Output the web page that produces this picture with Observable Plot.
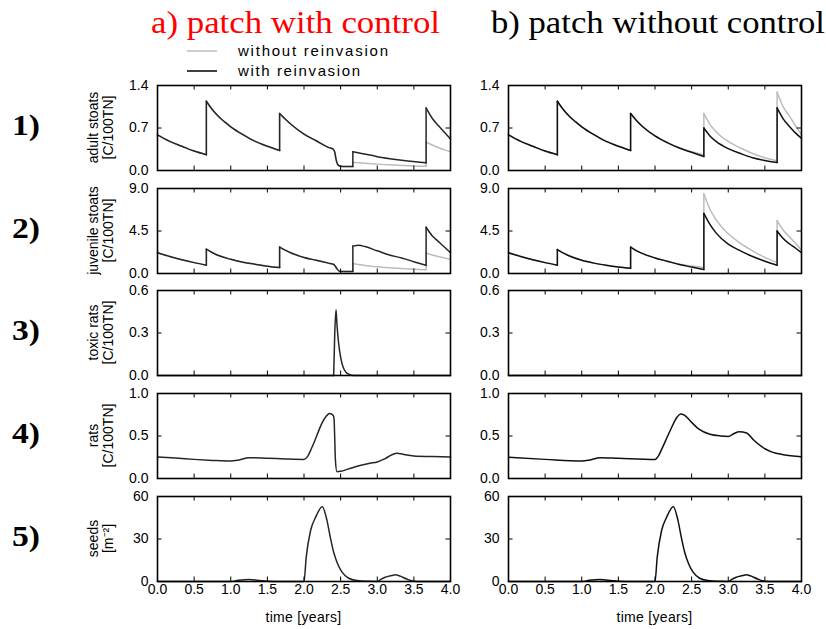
<!DOCTYPE html>
<html><head><meta charset="utf-8">
<script src="https://cdn.jsdelivr.net/npm/d3@7"></script>
<script src="https://cdn.jsdelivr.net/npm/@observablehq/plot@0.6"></script>
<style>
body{margin:0;background:#fff;}
#c{position:relative;width:826px;height:629px;overflow:hidden;background:#fff;}
#c svg{position:absolute;}
</style></head><body><div id="c"></div>
<script>
// ---------- labels / ticks ----------
const columnTitles = ["a) patch with control", "b) patch without control"];
const rowLabels = ["1)", "2)", "3)", "4)", "5)"];
const rowNames = [["adult stoats","[C/100TN]"],["juvenile stoats","[C/100TN]"],["toxic rats","[C/100TN]"],["rats","[C/100TN]"],["seeds","[m\u207B\u00B2]"]];
const rowYTicks = [[0,0.7,1.4],[0,4.5,9],[0,0.3,0.6],[0,0.5,1.0],[0,30,60]];
const rowYFormat = [".1f",".1f",".1f",".1f","d"];
const timeTicks = [0,0.5,1,1.5,2,2.5,3,3.5,4];
const legendLabels = ["without reinvasion","with reinvasion"];
const xLabel = "time [years]";

// ---------- data (segments of [time, value]) ----------
// 1) adult stoats
const adultCtrlWith = [
 [[0,0.587],[0.167,0.48],[0.333,0.40],[0.5,0.32],[0.667,0.26]],
 [[0.667,1.14],[0.75,1.0],[0.833,0.89],[0.917,0.80],[1.0,0.72],[1.167,0.59],[1.333,0.48],[1.5,0.40],[1.667,0.33]],
 [[1.667,0.94],[1.75,0.84],[1.833,0.75],[2.0,0.60],[2.167,0.49],[2.333,0.38],[2.4,0.35],[2.42,0.30],[2.44,0.17],[2.46,0.10],[2.5,0.07],[2.55,0.065],[2.667,0.065]],
 [[2.667,0.31],[2.75,0.29],[2.917,0.25],[3.083,0.21],[3.25,0.18],[3.417,0.155],[3.583,0.135],[3.667,0.126]],
 [[3.667,1.03],[3.75,0.86],[3.833,0.74],[3.917,0.63],[4.0,0.52]]
];
const adultCtrlWithout = [
 [[0,0.587],[0.167,0.48],[0.333,0.40],[0.5,0.32],[0.667,0.26]],
 [[0.667,1.14],[0.75,1.0],[0.833,0.89],[0.917,0.80],[1.0,0.72],[1.167,0.59],[1.333,0.48],[1.5,0.40],[1.667,0.33]],
 [[1.667,0.94],[1.75,0.84],[1.833,0.75],[2.0,0.60],[2.167,0.49],[2.333,0.38],[2.4,0.35],[2.42,0.30],[2.44,0.17],[2.46,0.10],[2.5,0.07],[2.55,0.065],[2.667,0.065]],
 [[2.667,0.137],[2.833,0.12],[3.0,0.105],[3.25,0.09],[3.5,0.076],[3.667,0.068]],
 [[3.667,0.47],[3.75,0.42],[3.833,0.38],[3.917,0.34],[4.0,0.31]]
];
const adultFreeWith = [
 [[0,0.587],[0.167,0.48],[0.333,0.40],[0.5,0.32],[0.667,0.26]],
 [[0.667,1.14],[0.75,1.0],[0.833,0.89],[0.917,0.80],[1.0,0.72],[1.167,0.59],[1.333,0.48],[1.5,0.40],[1.667,0.33]],
 [[1.667,0.94],[1.75,0.82],[1.833,0.72],[2.0,0.57],[2.167,0.46],[2.333,0.37],[2.5,0.30],[2.667,0.23]],
 [[2.667,0.70],[2.75,0.57],[2.833,0.48],[3.0,0.36],[3.167,0.28],[3.333,0.21],[3.5,0.165],[3.667,0.13]],
 [[3.667,1.03],[3.75,0.85],[3.833,0.73],[3.917,0.62],[4.0,0.53]]
];
const adultFreeWithout = [
 [[0,0.587],[0.167,0.48],[0.333,0.40],[0.5,0.32],[0.667,0.26]],
 [[0.667,1.14],[0.75,1.0],[0.833,0.89],[0.917,0.80],[1.0,0.72],[1.167,0.59],[1.333,0.48],[1.5,0.40],[1.667,0.33]],
 [[1.667,0.94],[1.75,0.82],[1.833,0.72],[2.0,0.57],[2.167,0.46],[2.333,0.37],[2.5,0.31],[2.667,0.26]],
 [[2.667,0.94],[2.75,0.76],[2.833,0.64],[3.0,0.48],[3.167,0.37],[3.333,0.28],[3.5,0.21],[3.667,0.16]],
 [[3.667,1.29],[3.75,1.05],[3.833,0.90],[3.917,0.74],[4.0,0.59]]
];
// 2) juvenile stoats
const juvCtrlWith = [
 [[0,2.2],[0.167,1.8],[0.333,1.45],[0.5,1.15],[0.667,0.88]],
 [[0.667,2.57],[0.75,2.2],[0.833,1.9],[1.0,1.5],[1.167,1.2],[1.333,0.98],[1.5,0.78],[1.667,0.63]],
 [[1.667,2.8],[1.75,2.45],[1.833,2.15],[2.0,1.7],[2.167,1.4],[2.333,1.1],[2.4,0.98],[2.42,0.85],[2.45,0.5],[2.48,0.25],[2.5,0.2],[2.667,0.2]],
 [[2.667,2.9],[2.75,3.0],[2.833,2.85],[3.0,2.4],[3.167,1.95],[3.333,1.65],[3.5,1.25],[3.667,0.88]],
 [[3.667,4.9],[3.75,4.0],[3.833,3.4],[3.917,2.8],[4.0,2.2]]
];
const juvCtrlWithout = [
 [[0,2.2],[0.167,1.8],[0.333,1.45],[0.5,1.15],[0.667,0.88]],
 [[0.667,2.57],[0.75,2.2],[0.833,1.9],[1.0,1.5],[1.167,1.2],[1.333,0.98],[1.5,0.78],[1.667,0.63]],
 [[1.667,2.8],[1.75,2.45],[1.833,2.15],[2.0,1.7],[2.167,1.4],[2.333,1.1],[2.4,0.98],[2.42,0.85],[2.45,0.5],[2.48,0.25],[2.5,0.2],[2.667,0.2]],
 [[2.667,1.05],[2.833,0.85],[3.0,0.72],[3.167,0.6],[3.333,0.52],[3.5,0.44],[3.667,0.39]],
 [[3.667,2.2],[3.75,1.95],[3.833,1.8],[3.917,1.65],[4.0,1.5]]
];
const juvFreeWith = [
 [[0,2.2],[0.167,1.8],[0.333,1.45],[0.5,1.15],[0.667,0.88]],
 [[0.667,2.53],[0.75,2.15],[0.833,1.85],[1.0,1.4],[1.167,1.1],[1.333,0.88],[1.5,0.7],[1.667,0.56]],
 [[1.667,2.8],[1.75,2.4],[1.833,2.1],[2.0,1.65],[2.167,1.3],[2.333,0.95],[2.5,0.68],[2.667,0.42]],
 [[2.667,6.36],[2.75,5.2],[2.833,4.3],[3.0,3.1],[3.167,2.4],[3.333,1.8],[3.5,1.3],[3.667,0.88]],
 [[3.667,4.5],[3.75,3.7],[3.833,3.15],[3.917,2.7],[4.0,2.2]]
];
const juvFreeWithout = [
 [[0,2.2],[0.167,1.8],[0.333,1.45],[0.5,1.15],[0.667,0.88]],
 [[0.667,2.53],[0.75,2.15],[0.833,1.85],[1.0,1.4],[1.167,1.1],[1.333,0.88],[1.5,0.7],[1.667,0.56]],
 [[1.667,2.8],[1.75,2.4],[1.833,2.1],[2.0,1.65],[2.167,1.3],[2.333,0.98],[2.5,0.8],[2.667,0.63]],
 [[2.667,8.44],[2.75,6.8],[2.833,5.7],[3.0,4.2],[3.167,3.2],[3.333,2.4],[3.5,1.7],[3.667,1.16]],
 [[3.667,5.6],[3.75,4.6],[3.833,3.9],[3.917,3.2],[4.0,2.46]]
];
// 3) toxic rats
const toxicCtrl = [
 [[0,0],[2.405,0]],
 [[2.405,0],[2.42,0.3],[2.437,0.465],[2.45,0.36],[2.47,0.24],[2.5,0.13],[2.53,0.065],[2.57,0.025],[2.62,0.007],[2.68,0],[4,0]]
];
const toxicFree = [
 [[0,0],[4,0]]
];
// 4) rats
const ratsCtrl = [
 [[0,0.252],[0.25,0.24],[0.5,0.225],[0.75,0.213],[1.0,0.205],[1.1,0.215],[1.25,0.245],[1.5,0.238],[1.75,0.23],[2.0,0.225],[2.05,0.26],[2.1,0.35],[2.15,0.45],[2.2,0.56],[2.25,0.66],[2.3,0.73],[2.35,0.765],[2.4,0.74],[2.41,0.7],[2.43,0.2],[2.45,0.08],[2.5,0.085],[2.6,0.11],[2.75,0.15],[2.9,0.18],[3.0,0.195],[3.1,0.23],[3.2,0.28],[3.27,0.298],[3.35,0.285],[3.5,0.265],[3.75,0.258],[4.0,0.252]]
];
const ratsFree = [
 [[0,0.25],[0.5,0.225],[1.0,0.205],[1.1,0.215],[1.25,0.245],[1.5,0.238],[2.0,0.225],[2.05,0.27],[2.1,0.36],[2.2,0.55],[2.3,0.72],[2.35,0.76],[2.4,0.745],[2.5,0.66],[2.6,0.58],[2.75,0.52],[2.9,0.5],[3.0,0.495],[3.08,0.53],[3.15,0.55],[3.25,0.535],[3.35,0.45],[3.5,0.35],[3.6,0.31],[3.75,0.28],[4.0,0.256]]
];
// 5) seeds
const seedsCtrl = [
 [[0,0],[1.0,0],[1.1,0.8],[1.25,1.4],[1.4,0.7],[1.5,0.1],[1.6,0],[2.0,0],[2.03,17],[2.09,36],[2.155,45],[2.25,52.7],[2.314,43],[2.36,31],[2.405,20.6],[2.46,12.4],[2.52,6.6],[2.61,2.3],[2.72,0.7],[2.9,0.1],[3.0,0],[3.05,1.5],[3.1,2.8],[3.2,4.2],[3.25,4.7],[3.3,4],[3.4,1.8],[3.5,0.2],[3.6,0],[4,0]]
];
const seedsFree = [
 [[0,0],[1.0,0],[1.1,0.8],[1.25,1.4],[1.4,0.7],[1.5,0.1],[1.6,0],[2.0,0],[2.03,17],[2.09,36],[2.155,45],[2.25,52.7],[2.314,43],[2.36,31],[2.405,20.6],[2.46,12.4],[2.52,6.6],[2.61,2.3],[2.72,0.7],[2.9,0.1],[3.0,0],[3.05,1.5],[3.1,2.8],[3.2,4.2],[3.25,4.7],[3.3,4],[3.4,1.8],[3.5,0.2],[3.6,0],[4,0]]
];

// panel series: [row][col] = {gray, black}
const panels = [
 [{gray: adultCtrlWithout, black: adultCtrlWith}, {gray: adultFreeWithout, black: adultFreeWith}],
 [{gray: juvCtrlWithout, black: juvCtrlWith}, {gray: juvFreeWithout, black: juvFreeWith}],
 [{gray: null, black: toxicCtrl}, {gray: null, black: toxicFree}],
 [{gray: null, black: ratsCtrl}, {gray: null, black: ratsFree}],
 [{gray: null, black: seedsCtrl}, {gray: null, black: seedsFree}]
];

// ---------- layout ----------
const PX = [157, 508], PW = 293;
const PY = [85, 188, 290, 393, 496], PH = 85;
const ML = 45, MR = 12, MT = 12;
const tickFont = "'Liberation Sans', Arial, sans-serif";
const serif = "'Liberation Serif', 'Times New Roman', serif";

function toRows(segs) {
  const pts = [], jumps = [];
  segs.forEach((seg, i) => {
    seg.forEach(([t, v]) => pts.push({t, v, z: "s" + i}));
    if (i > 0) {
      const a = segs[i - 1][segs[i - 1].length - 1], b = seg[0];
      jumps.push({t: a[0], v: a[1], z: "j" + i}, {t: b[0], v: b[1], z: "j" + i});
    }
  });
  return {pts, jumps};
}

const container = document.getElementById("c");

panels.forEach((rowPanels, r) => {
  rowPanels.forEach((p, c) => {
    const yt = rowYTicks[r];
    const ymax = yt[yt.length - 1];
    const MB = r === 4 ? 28 : 10;
    const marks = [];
    const lineStyle = {x: "t", y: "v", z: "z", strokeWidth: 1.5, strokeLinejoin: "round"};
    const blackCol = c === 0 ? "#262626" : "#111";
    if (p.gray) {
      const g = toRows(p.gray);
      marks.push(Plot.line(g.pts, {...lineStyle, stroke: "#bcbcbc", curve: "monotone-x"}));
      marks.push(Plot.line(g.jumps, {...lineStyle, stroke: "#bcbcbc", curve: "linear"}));
    }
    const b = toRows(p.black);
    marks.push(Plot.line(b.pts, {...lineStyle, stroke: blackCol, curve: "monotone-x"}));
    marks.push(Plot.line(b.jumps, {...lineStyle, stroke: blackCol, curve: "linear"}));
    // inward ticks on all four sides
    const ty = ymax * 4.5 / PH, tx = 4 * 4.5 / PW;
    marks.push(Plot.ruleX(timeTicks.slice(1, -1), {x: d => d, y1: 0, y2: ty, stroke: "#000", strokeWidth: 1}));
    marks.push(Plot.ruleX(timeTicks.slice(1, -1), {x: d => d, y1: ymax, y2: ymax - ty, stroke: "#000", strokeWidth: 1}));
    marks.push(Plot.ruleY(yt.slice(1, -1), {y: d => d, x1: 0, x2: tx, stroke: "#000", strokeWidth: 1}));
    marks.push(Plot.ruleY(yt.slice(1, -1), {y: d => d, x1: 4, x2: 4 - tx, stroke: "#000", strokeWidth: 1}));
    marks.push(Plot.frame({stroke: "#000", strokeWidth: 1.6}));
    marks.push(Plot.axisY(yt, {tickSize: 0, tickPadding: 9, tickFormat: d3.format(rowYFormat[r]), label: null, fontSize: 14}));
    if (r === 4) marks.push(Plot.axisX(timeTicks, {tickSize: 0, tickPadding: 3, tickFormat: d3.format(".1f"), label: null, fontSize: 14}));
    const svg = Plot.plot({
      width: PW + ML + MR, height: PH + MT + MB,
      marginLeft: ML, marginRight: MR, marginTop: MT, marginBottom: MB,
      x: {domain: [0, 4], axis: null},
      y: {domain: [0, ymax], axis: null},
      style: {fontFamily: tickFont, fontSize: "14px", background: "transparent", overflow: "visible", color: "#000"},
      marks
    });
    svg.style.left = (PX[c] - ML) + "px";
    svg.style.top = (PY[r] - MT) + "px";
    container.appendChild(svg);
  });
});

// ---------- annotation layer ----------
const NS = "http://www.w3.org/2000/svg";
const ann = document.createElementNS(NS, "svg");
ann.setAttribute("width", 826); ann.setAttribute("height", 629);
ann.style.left = "0px"; ann.style.top = "0px";
function txt(s, attrs) {
  const e = document.createElementNS(NS, "text");
  for (const k in attrs) e.setAttribute(k, attrs[k]);
  e.textContent = s;
  ann.appendChild(e);
  return e;
}
txt(columnTitles[0], {x: 151, y: 33, "font-family": serif, "font-size": 31, fill: "#f00", textLength: 289, lengthAdjust: "spacingAndGlyphs"});
txt(columnTitles[1], {x: 491, y: 33, "font-family": serif, "font-size": 31, fill: "#000", textLength: 334, lengthAdjust: "spacingAndGlyphs"});
// legend
[["#bcbcbc", 51], ["#000", 71]].forEach(([col, y], i) => {
  const l = document.createElementNS(NS, "line");
  l.setAttribute("x1", 187); l.setAttribute("x2", 217);
  l.setAttribute("y1", y); l.setAttribute("y2", y);
  l.setAttribute("stroke", col); l.setAttribute("stroke-width", 1.5);
  ann.appendChild(l);
  txt(legendLabels[i], {x: 238, y: y + 5, "font-family": tickFont, "font-size": 15, textLength: i === 0 ? 150 : 122, lengthAdjust: "spacing"});
});
rowLabels.forEach((s, r) => {
  const cy = PY[r] + PH / 2;
  txt(s, {x: 12, y: cy + 7, "font-family": serif, "font-size": 30, "font-weight": "bold", textLength: 28, lengthAdjust: "spacingAndGlyphs"});
  txt(rowNames[r][0], {transform: `translate(98,${cy}) rotate(-90)`, "text-anchor": "middle", "font-family": tickFont, "font-size": 14});
  txt(rowNames[r][1], {transform: `translate(113,${cy}) rotate(-90)`, "text-anchor": "middle", "font-family": tickFont, "font-size": 14});
});
[0, 1].forEach(c => {
  txt(xLabel, {x: PX[c] + PW / 2, y: 622, "text-anchor": "middle", "font-family": tickFont, "font-size": 14, "letter-spacing": "0.3px"});
});
container.appendChild(ann);
</script></body></html>
